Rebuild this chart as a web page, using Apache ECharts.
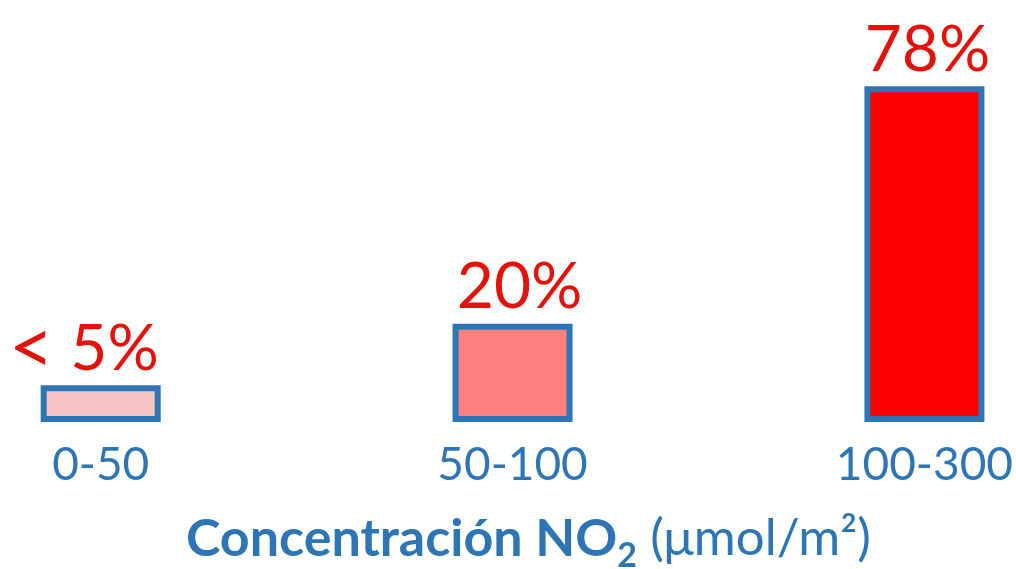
<!DOCTYPE html>
<html><head><meta charset="utf-8">
<script src="https://cdn.jsdelivr.net/npm/echarts@6/dist/echarts.min.js"></script>
<style>html,body{margin:0;padding:0;background:#ffffff}#c{width:1016px;height:569px}</style>
</head><body><div id="c"></div>
<script>
const categories = ['0-50', '50-100', '100-300'];
const values = [5, 20, 78];
const valueLabels = ['< 5%', '20%', '78%'];

// styles (kept apart from the data)
const fillColors = ['#f9c4c4', '#ff8080', '#ff0000'];
const labelShiftX = [-17, 7, 3];

const blue = '#2e75b6';
const red = '#e3120b';
const chart = echarts.init(document.getElementById('c'));
chart.setOption({
  backgroundColor: '#ffffff',
  animation: false,
  title: {
    text: '{b|Concentración NO}{s|2}{n| (μmol/m²)}',
    left: 181, top: 504,
    textStyle: {
      rich: {
        b: {fontFamily: 'Lato', fontWeight: 'bold', fontSize: 52, color: blue, lineHeight: 60},
        s: {fontFamily: 'Lato', fontWeight: 'bold', fontSize: 34, color: blue, lineHeight: 20, padding: [35, 0, 0, 0]},
        n: {fontFamily: 'Lato', fontWeight: 'normal', fontSize: 51, color: blue, lineHeight: 60}
      }
    }
  },
  grid: {left: 100.7, right: 91.3, top: 78, bottom: 147, containLabel: false},
  xAxis: {
    type: 'category', data: categories, boundaryGap: false,
    axisLine: {show: false}, axisTick: {show: false}, splitLine: {show: false},
    axisLabel: {color: blue, fontFamily: 'Lato', fontSize: 46, lineHeight: 46, margin: 20}
  },
  yAxis: {
    type: 'value', min: -4, max: 80, startValue: -4, show: false,
    splitLine: {show: false}
  },
  series: [{
    type: 'bar',
    data: values.map((v, i) => ({
      value: v,
      itemStyle: {color: fillColors[i]},
      label: {offset: [labelShiftX[i], 0]}
    })),
    barWidth: 120, clip: false,
    itemStyle: {borderColor: blue, borderWidth: 6},
    label: {
      show: true, position: 'top', distance: 4,
      formatter: p => valueLabels[p.dataIndex].replace('<', '{lt|<}'),
      color: red, fontFamily: 'Lato', fontSize: 64, lineHeight: 64,
      rich: {
        lt: {color: red, fontFamily: 'Lato', fontSize: 78, lineHeight: 64}
      }
    }
  }]
});
</script></body></html>
